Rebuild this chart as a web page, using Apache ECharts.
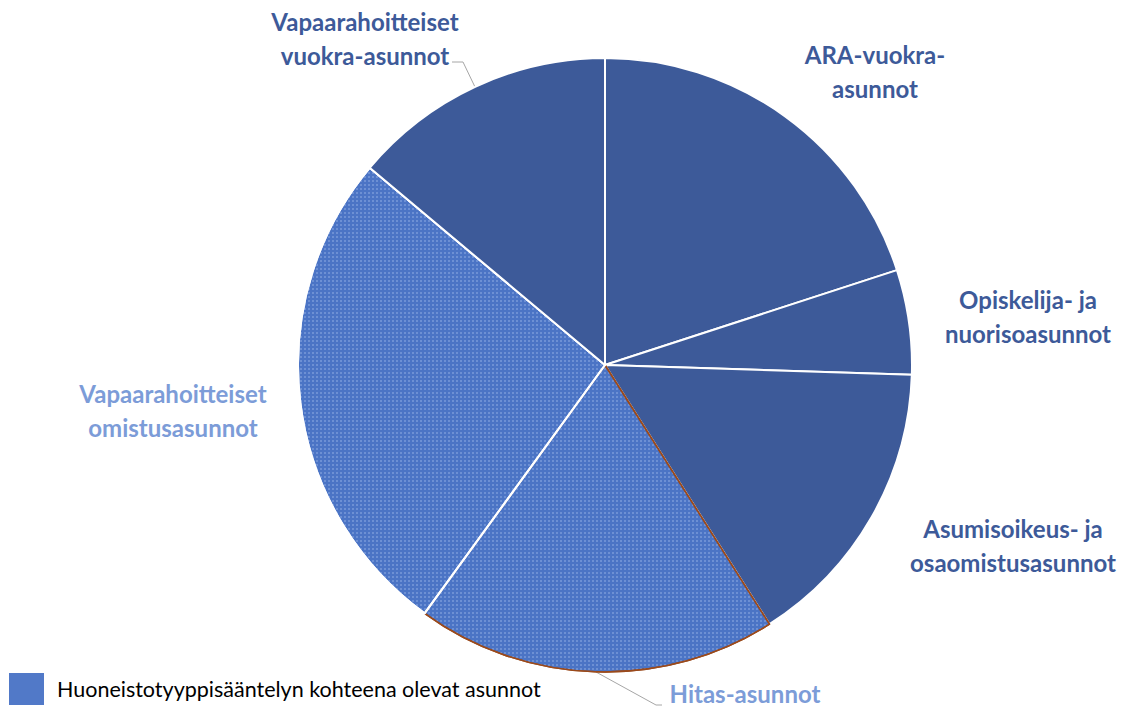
<!DOCTYPE html>
<html>
<head>
<meta charset="utf-8">
<script src="https://cdn.jsdelivr.net/npm/echarts@6/dist/echarts.min.js"></script>
<style>
  html, body { margin: 0; padding: 0; background: #ffffff; }
  #chart { width: 1139px; height: 711px; }
</style>
</head>
<body>
<div id="chart"></div>
<script>
// asuntotyypit (myötäpäivään klo 12 alkaen)
const categories = [
  'ARA-vuokra-\nasunnot',
  'Opiskelija- ja\nnuorisoasunnot',
  'Asumisoikeus- ja\nosaomistusasunnot',
  'Hitas-asunnot',
  'Vapaarahoitteiset\nomistusasunnot',
  'Vapaarahoitteiset\nvuokra-asunnot'
];
// osuudet (%) arvioitu kuvasta
const shares = [20.0, 5.5, 15.5, 19.0, 26.1, 13.9];
// kuuluuko huoneistotyyppisääntelyn piiriin
const regulated = [false, false, false, true, true, false];
const legendText = 'Huoneistotyyppisääntelyn kohteena olevat asunnot';

const darkBlue = '#3D5A99';
const lightBlue = '#4B74C5';
const darkLabel = '#3D5A99';
const lightLabel = '#7C9CD8';

const patternDecal = {
  symbol: 'rect',
  symbolSize: 1,
  dashArrayX: [2, 2],
  dashArrayY: [2, 2],
  color: 'rgba(170, 195, 240, 0.35)'
};

// tekstien paikat
const labelPos = [
  [875, 71],
  [1028, 316],
  [1013, 545],
  [745, 693],
  [173, 410],
  [365, 38]
];

const pieData = categories.map((name, i) => ({
  name: name,
  value: shares[i],
  itemStyle: regulated[i]
    ? {
        color: lightBlue,
        decal: patternDecal,
        borderColor: i === 3 ? '#9A4A1C' : '#ffffff',
        borderWidth: i === 3 ? 1.5 : 2
      }
    : { color: darkBlue, borderColor: '#ffffff', borderWidth: 2 },
  label: { color: regulated[i] ? lightLabel : darkLabel },
  labelLine: { show: i === 3 || i === 5 }
}));

const chart = echarts.init(document.getElementById('chart'), null, { renderer: 'svg' });

chart.setOption({
  backgroundColor: '#ffffff',
  animation: false,
  series: [{
    type: 'pie',
    center: [605, 365],
    radius: [0, 307],
    startAngle: 90,
    clockwise: true,
    data: pieData,
    label: {
      show: true,
      position: 'outside',
      fontFamily: 'Lato',
      fontWeight: 'bold',
      fontSize: 24,
      lineHeight: 34,
      align: 'center'
    },
    labelLine: {
      lineStyle: { color: '#A6A6A6', width: 1 }
    },
    labelLayout: function (params) {
      const p = labelPos[params.dataIndex];
      const out = { x: p[0], y: p[1], align: 'center', verticalAlign: 'middle' };
      if (params.dataIndex === 5) {
        out.labelLinePoints = [[475, 87], [463, 62], [452, 62]];
      } else if (params.dataIndex === 3) {
        out.labelLinePoints = [[596, 672], [656, 705], [662, 705]];
      }
      return out;
    },
    emphasis: { disabled: true }
  }],
  graphic: [
    {
      type: 'rect',
      left: 9,
      top: 673,
      shape: { width: 35, height: 32 },
      style: { fill: '#5179C8' }
    },
    {
      type: 'text',
      left: 57,
      top: 678,
      style: {
        text: legendText,
        fill: '#000000',
        font: '21.5px Lato'
      }
    }
  ]
});
</script>
</body>
</html>
